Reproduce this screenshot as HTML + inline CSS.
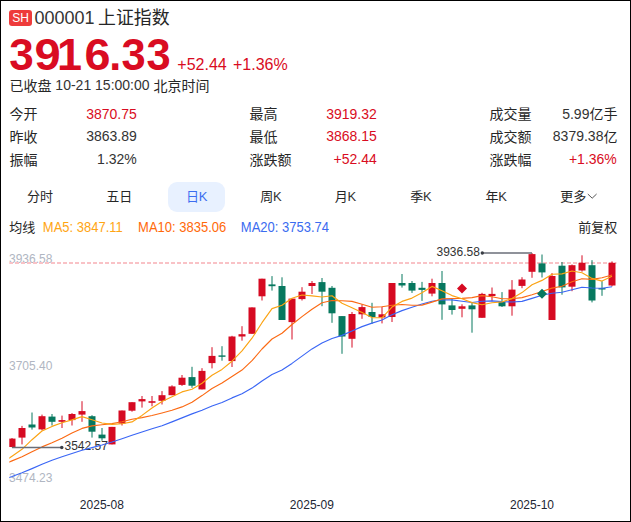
<!DOCTYPE html>
<html lang="zh-CN"><head><meta charset="utf-8"><title>000001 上证指数</title>
<style>
html,body{margin:0;padding:0;background:#fff;}
body{width:631px;height:522px;overflow:hidden;position:relative;font-family:"Liberation Sans",sans-serif;}
#wrap{position:absolute;left:0;top:0;width:631px;height:522px;box-sizing:border-box;border:1px solid #000;background:#fff;overflow:hidden;}
.t{position:absolute;white-space:nowrap;margin:0;padding:0;}
.h{color:transparent !important;overflow:hidden;width:1px;height:1px;opacity:0;}
.c{display:inline-block;height:1px;overflow:hidden;vertical-align:top;color:transparent;white-space:nowrap;}
.big{position:absolute;font-weight:bold;white-space:nowrap;}.big span{display:inline-block;vertical-align:top;text-align:left;}
.badge{position:absolute;left:9px;top:10px;width:23px;height:16px;border-radius:3px;background:#ee3b3b;color:#fff;font-size:12px;line-height:16px;text-align:center;}
.pill{position:absolute;left:167.8px;top:181.8px;width:57.5px;height:30px;border-radius:9px;background:#e8f1ff;}
svg{position:absolute;left:0;top:0;}
svg text{font-family:"Liberation Sans","Noto Sans CJK SC",sans-serif;}
</style></head><body>
<div id="wrap"></div>
<div class="badge">SH</div>
<div class="t" style="top:7.26px;font-size:18px;line-height:22px;color:#333333;left:34.40px;">000001 <span class="c" style="width:72px"></span></div>
<div class="big" style="left:9.08px;top:28.31px;font-size:45.0px;line-height:54px;color:#d90c22"><span style="width:25.91px;transform-origin:12.22px 0;transform:scaleX(0.979);">3</span><span style="width:21.90px;transform-origin:12.46px 0;transform:scaleX(1.046);">9</span><span style="width:28.43px;">1</span><span style="width:23.95px;transform-origin:12.52px 0;transform:scaleX(1.039);">6</span><span style="width:12.26px;transform-origin:6.23px 0;transform:scaleX(0.961);">.</span><span style="width:24.20px;transform-origin:12.22px 0;transform:scaleX(0.966);">3</span><span style="width:30.00px;transform-origin:12.22px 0;transform:scaleX(0.966);">3</span></div>
<div class="t" style="top:55.16px;font-size:16px;line-height:19px;color:#d90c22;left:177.30px;">+52.44</div>
<div class="t" style="top:55.16px;font-size:16px;line-height:19px;color:#d90c22;left:233.00px;">+1.36%</div>
<div class="t" style="top:77.45px;font-size:14px;line-height:17px;color:#333333;left:9.40px;"><span class="c" style="width:42.1px"></span> 10-21 15:00:00 <span class="c" style="width:56px"></span></div>
<div class="t" style="top:105.65px;font-size:14px;line-height:17px;color:#333333;left:9.40px;"><span class="c" style="width:28px"></span></div>
<div class="t" style="top:105.65px;font-size:14px;line-height:17px;color:#d90c22;right:494.20px;text-align:right;">3870.75</div>
<div class="t" style="top:105.65px;font-size:14px;line-height:17px;color:#333333;left:249.40px;"><span class="c" style="width:28px"></span></div>
<div class="t" style="top:105.65px;font-size:14px;line-height:17px;color:#d90c22;right:254.20px;text-align:right;">3919.32</div>
<div class="t" style="top:105.65px;font-size:14px;line-height:17px;color:#333333;left:489.40px;"><span class="c" style="width:42px"></span></div>
<div class="t" style="top:105.65px;font-size:14px;line-height:17px;color:#333333;right:14.20px;text-align:right;">5.99<span class="c" style="width:27.4px"></span></div>
<div class="t" style="top:128.05px;font-size:14px;line-height:17px;color:#333333;left:9.40px;"><span class="c" style="width:28px"></span></div>
<div class="t" style="top:128.05px;font-size:14px;line-height:17px;color:#333333;right:494.20px;text-align:right;">3863.89</div>
<div class="t" style="top:128.05px;font-size:14px;line-height:17px;color:#333333;left:249.40px;"><span class="c" style="width:28px"></span></div>
<div class="t" style="top:128.05px;font-size:14px;line-height:17px;color:#d90c22;right:254.20px;text-align:right;">3868.15</div>
<div class="t" style="top:128.05px;font-size:14px;line-height:17px;color:#333333;left:489.40px;"><span class="c" style="width:42px"></span></div>
<div class="t" style="top:128.05px;font-size:14px;line-height:17px;color:#333333;right:14.20px;text-align:right;">8379.38<span class="c" style="width:13.4px"></span></div>
<div class="t" style="top:150.75px;font-size:14px;line-height:17px;color:#333333;left:9.40px;"><span class="c" style="width:28px"></span></div>
<div class="t" style="top:150.75px;font-size:14px;line-height:17px;color:#333333;right:494.20px;text-align:right;">1.32%</div>
<div class="t" style="top:150.75px;font-size:14px;line-height:17px;color:#333333;left:249.40px;"><span class="c" style="width:42px"></span></div>
<div class="t" style="top:150.75px;font-size:14px;line-height:17px;color:#d90c22;right:254.20px;text-align:right;">+52.44</div>
<div class="t" style="top:150.75px;font-size:14px;line-height:17px;color:#333333;left:489.40px;"><span class="c" style="width:42px"></span></div>
<div class="t" style="top:150.75px;font-size:14px;line-height:17px;color:#d90c22;right:14.20px;text-align:right;">+1.36%</div>
<div class="pill"></div>
<div class="t" style="top:188.50px;font-size:13px;line-height:16px;color:#333333;left:27.00px;"><span class="c" style="width:26px"></span></div>
<div class="t" style="top:188.50px;font-size:13px;line-height:16px;color:#333333;left:106.20px;"><span class="c" style="width:26px"></span></div>
<div class="t" style="top:188.50px;font-size:13px;line-height:16px;color:#3d6df0;left:186.00px;"><span class="c" style="width:12.8px"></span>K</div>
<div class="t" style="top:188.50px;font-size:13px;line-height:16px;color:#333333;left:260.20px;"><span class="c" style="width:12.8px"></span>K</div>
<div class="t" style="top:188.50px;font-size:13px;line-height:16px;color:#333333;left:334.80px;"><span class="c" style="width:12.8px"></span>K</div>
<div class="t" style="top:188.50px;font-size:13px;line-height:16px;color:#333333;left:410.20px;"><span class="c" style="width:12.8px"></span>K</div>
<div class="t" style="top:188.50px;font-size:13px;line-height:16px;color:#333333;left:485.40px;"><span class="c" style="width:12.8px"></span>K</div>
<div class="t" style="top:188.50px;font-size:13px;line-height:16px;color:#333333;left:560.20px;"><span class="c" style="width:26px"></span></div>
<div class="t" style="top:219.60px;font-size:13px;line-height:16px;color:#333333;left:9.20px;"><span class="c" style="width:26px"></span></div>
<div class="t" style="top:219.60px;font-size:13px;line-height:16px;color:#ffa514;left:42.80px;transform:scaleY(1.1);transform-origin:0 12.50px;">MA5: 3847.11</div>
<div class="t" style="top:219.60px;font-size:13px;line-height:16px;color:#ff690a;left:138.10px;transform:scaleY(1.1);transform-origin:0 12.50px;">MA10: 3835.06</div>
<div class="t" style="top:219.60px;font-size:13px;line-height:16px;color:#3b6cf0;left:240.80px;transform:scaleY(1.1);transform-origin:0 12.50px;">MA20: 3753.74</div>
<div class="t" style="top:219.60px;font-size:13px;line-height:16px;color:#333333;left:578.20px;"><span class="c" style="width:39px"></span></div>
<div class="t" style="top:251.64px;font-size:12px;line-height:14px;color:#b0b6c2;left:9.00px;">3936.58</div>
<div class="t" style="top:358.94px;font-size:12px;line-height:14px;color:#b0b6c2;left:9.00px;">3705.40</div>
<div class="t" style="top:470.84px;font-size:12px;line-height:14px;color:#b0b6c2;left:9.00px;">3474.23</div>
<div class="t" style="top:498.14px;font-size:12px;line-height:14px;color:#222633;left:101.90px;width:90px;margin-left:-45px;text-align:center;">2025-08</div>
<div class="t" style="top:498.14px;font-size:12px;line-height:14px;color:#222633;left:311.90px;width:90px;margin-left:-45px;text-align:center;">2025-09</div>
<div class="t" style="top:498.14px;font-size:12px;line-height:14px;color:#222633;left:532.00px;width:90px;margin-left:-45px;text-align:center;">2025-10</div>
<div class="t" style="top:244.74px;font-size:12px;line-height:14px;color:#333;left:436.50px;">3936.58</div>
<div class="t" style="top:439.14px;font-size:12px;line-height:14px;color:#333;left:64.50px;">3542.57</div>
<svg width="631" height="522" viewBox="0 0 631 522">
<defs><clipPath id="cp"><rect x="9.3" y="240" width="612" height="255"/></clipPath></defs>
<g clip-path="url(#cp)"><line x1="9" y1="263" x2="616.5" y2="263" stroke="#f9c2c6" stroke-width="2" stroke-dasharray="4 2"/>
<line x1="12.0" y1="438.0" x2="12.0" y2="447.2" stroke="#d60a22" stroke-width="1"/>
<rect x="8.5" y="438.6" width="7" height="8.4" fill="#d60a22"/>
<line x1="22.0" y1="425.9" x2="22.0" y2="444.4" stroke="#d60a22" stroke-width="1"/>
<rect x="18.5" y="428.0" width="7" height="9.6" fill="#d60a22"/>
<line x1="32.0" y1="412.5" x2="32.0" y2="429.6" stroke="#07785f" stroke-width="1"/>
<rect x="28.5" y="424.5" width="7" height="3.0" fill="#07785f"/>
<line x1="42.0" y1="414.6" x2="42.0" y2="430.4" stroke="#d60a22" stroke-width="1"/>
<rect x="38.5" y="416.2" width="7" height="13.2" fill="#d60a22"/>
<line x1="52.0" y1="414.0" x2="52.0" y2="425.5" stroke="#07785f" stroke-width="1"/>
<rect x="48.5" y="416.6" width="7" height="5.2" fill="#07785f"/>
<line x1="62.0" y1="415.6" x2="62.0" y2="428.0" stroke="#d60a22" stroke-width="1"/>
<rect x="58.5" y="420.1" width="7" height="1.7" fill="#d60a22"/>
<line x1="72.0" y1="413.1" x2="72.0" y2="425.5" stroke="#d60a22" stroke-width="1"/>
<rect x="68.5" y="414.0" width="7" height="6.1" fill="#d60a22"/>
<line x1="82.0" y1="401.2" x2="82.0" y2="421.8" stroke="#d60a22" stroke-width="1"/>
<rect x="78.5" y="411.1" width="7" height="3.5" fill="#d60a22"/>
<line x1="92.0" y1="415.2" x2="92.0" y2="437.6" stroke="#07785f" stroke-width="1"/>
<rect x="88.5" y="416.2" width="7" height="15.5" fill="#07785f"/>
<line x1="102.0" y1="428.0" x2="102.0" y2="440.7" stroke="#07785f" stroke-width="1"/>
<rect x="98.5" y="434.6" width="7" height="3.7" fill="#07785f"/>
<line x1="112.0" y1="426.9" x2="112.0" y2="444.4" stroke="#d60a22" stroke-width="1"/>
<rect x="108.5" y="426.9" width="7" height="17.5" fill="#d60a22"/>
<line x1="122.0" y1="410.5" x2="122.0" y2="425.5" stroke="#d60a22" stroke-width="1"/>
<rect x="118.5" y="410.5" width="7" height="13.1" fill="#d60a22"/>
<line x1="132.0" y1="402.2" x2="132.0" y2="411.7" stroke="#d60a22" stroke-width="1"/>
<rect x="128.5" y="402.2" width="7" height="8.5" fill="#d60a22"/>
<line x1="142.0" y1="396.0" x2="142.0" y2="407.6" stroke="#d60a22" stroke-width="1"/>
<rect x="138.5" y="399.1" width="7" height="2.3" fill="#d60a22"/>
<line x1="152.0" y1="396.0" x2="152.0" y2="406.3" stroke="#d60a22" stroke-width="1"/>
<rect x="148.5" y="401.2" width="7" height="1.6" fill="#d60a22"/>
<line x1="162.0" y1="391.1" x2="162.0" y2="404.5" stroke="#d60a22" stroke-width="1"/>
<rect x="158.5" y="395.2" width="7" height="5.6" fill="#d60a22"/>
<line x1="172.0" y1="385.3" x2="172.0" y2="395.2" stroke="#d60a22" stroke-width="1"/>
<rect x="168.5" y="386.4" width="7" height="8.8" fill="#d60a22"/>
<line x1="182.0" y1="375.0" x2="182.0" y2="385.9" stroke="#d60a22" stroke-width="1"/>
<rect x="178.5" y="377.7" width="7" height="7.2" fill="#d60a22"/>
<line x1="192.0" y1="366.8" x2="192.0" y2="387.8" stroke="#07785f" stroke-width="1"/>
<rect x="188.5" y="377.1" width="7" height="8.6" fill="#07785f"/>
<line x1="202.0" y1="368.2" x2="202.0" y2="389.4" stroke="#d60a22" stroke-width="1"/>
<rect x="198.5" y="370.9" width="7" height="18.5" fill="#d60a22"/>
<line x1="212.0" y1="347.2" x2="212.0" y2="368.4" stroke="#d60a22" stroke-width="1"/>
<rect x="208.5" y="355.9" width="7" height="7.2" fill="#d60a22"/>
<line x1="222.0" y1="346.2" x2="222.0" y2="360.7" stroke="#07785f" stroke-width="1"/>
<rect x="218.5" y="355.4" width="7" height="1.4" fill="#07785f"/>
<line x1="232.0" y1="335.8" x2="232.0" y2="367.0" stroke="#d60a22" stroke-width="1"/>
<rect x="228.5" y="336.5" width="7" height="24.6" fill="#d60a22"/>
<line x1="242.0" y1="326.2" x2="242.0" y2="340.7" stroke="#d60a22" stroke-width="1"/>
<rect x="238.5" y="334.2" width="7" height="2.3" fill="#d60a22"/>
<line x1="252.0" y1="307.4" x2="252.0" y2="333.8" stroke="#d60a22" stroke-width="1"/>
<rect x="248.5" y="307.4" width="7" height="26.4" fill="#d60a22"/>
<line x1="262.0" y1="278.7" x2="262.0" y2="300.5" stroke="#d60a22" stroke-width="1"/>
<rect x="258.5" y="278.7" width="7" height="17.6" fill="#d60a22"/>
<line x1="272.0" y1="276.1" x2="272.0" y2="290.6" stroke="#07785f" stroke-width="1"/>
<rect x="268.5" y="284.4" width="7" height="1.8" fill="#07785f"/>
<line x1="282.0" y1="277.3" x2="282.0" y2="320.0" stroke="#07785f" stroke-width="1"/>
<rect x="278.5" y="286.0" width="7" height="34.0" fill="#07785f"/>
<line x1="292.0" y1="298.6" x2="292.0" y2="339.5" stroke="#d60a22" stroke-width="1"/>
<rect x="288.5" y="298.6" width="7" height="23.5" fill="#d60a22"/>
<line x1="302.0" y1="287.2" x2="302.0" y2="300.5" stroke="#d60a22" stroke-width="1"/>
<rect x="298.5" y="291.7" width="7" height="7.4" fill="#d60a22"/>
<line x1="312.0" y1="281.0" x2="312.0" y2="294.0" stroke="#d60a22" stroke-width="1"/>
<rect x="308.5" y="283.0" width="7" height="3.0" fill="#d60a22"/>
<line x1="322.0" y1="278.0" x2="322.0" y2="306.2" stroke="#07785f" stroke-width="1"/>
<rect x="318.5" y="282.1" width="7" height="9.6" fill="#07785f"/>
<line x1="332.0" y1="286.0" x2="332.0" y2="322.8" stroke="#07785f" stroke-width="1"/>
<rect x="328.5" y="287.8" width="7" height="25.5" fill="#07785f"/>
<line x1="342.0" y1="316.1" x2="342.0" y2="353.8" stroke="#07785f" stroke-width="1"/>
<rect x="338.5" y="316.1" width="7" height="20.4" fill="#07785f"/>
<line x1="352.0" y1="312.0" x2="352.0" y2="347.6" stroke="#d60a22" stroke-width="1"/>
<rect x="348.5" y="314.0" width="7" height="24.8" fill="#d60a22"/>
<line x1="362.0" y1="304.4" x2="362.0" y2="318.8" stroke="#d60a22" stroke-width="1"/>
<rect x="358.5" y="307.1" width="7" height="7.2" fill="#d60a22"/>
<line x1="372.0" y1="302.8" x2="372.0" y2="323.9" stroke="#07785f" stroke-width="1"/>
<rect x="368.5" y="312.0" width="7" height="5.0" fill="#07785f"/>
<line x1="382.0" y1="306.7" x2="382.0" y2="323.4" stroke="#d60a22" stroke-width="1"/>
<rect x="378.5" y="314.3" width="7" height="3.2" fill="#d60a22"/>
<line x1="392.0" y1="283.0" x2="392.0" y2="322.0" stroke="#d60a22" stroke-width="1"/>
<rect x="388.5" y="283.0" width="7" height="34.0" fill="#d60a22"/>
<line x1="402.0" y1="274.0" x2="402.0" y2="287.6" stroke="#07785f" stroke-width="1"/>
<rect x="398.5" y="283.0" width="7" height="2.5" fill="#07785f"/>
<line x1="412.0" y1="281.0" x2="412.0" y2="292.9" stroke="#07785f" stroke-width="1"/>
<rect x="408.5" y="283.0" width="7" height="7.6" fill="#07785f"/>
<line x1="422.0" y1="281.9" x2="422.0" y2="300.9" stroke="#07785f" stroke-width="1"/>
<rect x="418.5" y="287.8" width="7" height="2.1" fill="#07785f"/>
<line x1="432.0" y1="278.7" x2="432.0" y2="296.3" stroke="#d60a22" stroke-width="1"/>
<rect x="428.5" y="283.0" width="7" height="10.6" fill="#d60a22"/>
<line x1="442.0" y1="271.0" x2="442.0" y2="319.8" stroke="#07785f" stroke-width="1"/>
<rect x="438.5" y="283.0" width="7" height="21.4" fill="#07785f"/>
<line x1="452.0" y1="298.8" x2="452.0" y2="314.6" stroke="#07785f" stroke-width="1"/>
<rect x="448.5" y="305.4" width="7" height="4.6" fill="#07785f"/>
<line x1="462.0" y1="304.3" x2="462.0" y2="317.3" stroke="#d60a22" stroke-width="1"/>
<rect x="458.5" y="306.3" width="7" height="2.5" fill="#d60a22"/>
<line x1="472.0" y1="302.4" x2="472.0" y2="332.7" stroke="#07785f" stroke-width="1"/>
<rect x="468.5" y="305.4" width="7" height="3.9" fill="#07785f"/>
<line x1="482.0" y1="292.8" x2="482.0" y2="317.8" stroke="#d60a22" stroke-width="1"/>
<rect x="478.5" y="293.9" width="7" height="23.9" fill="#d60a22"/>
<line x1="492.0" y1="287.5" x2="492.0" y2="301.3" stroke="#d60a22" stroke-width="1"/>
<rect x="488.5" y="293.9" width="7" height="2.1" fill="#d60a22"/>
<line x1="502.0" y1="292.1" x2="502.0" y2="307.0" stroke="#07785f" stroke-width="1"/>
<rect x="498.5" y="301.7" width="7" height="4.6" fill="#07785f"/>
<line x1="512.0" y1="280.1" x2="512.0" y2="315.7" stroke="#d60a22" stroke-width="1"/>
<rect x="508.5" y="289.6" width="7" height="16.7" fill="#d60a22"/>
<line x1="522.0" y1="277.2" x2="522.0" y2="288.2" stroke="#d60a22" stroke-width="1"/>
<rect x="518.5" y="279.5" width="7" height="6.4" fill="#d60a22"/>
<line x1="532.0" y1="253.0" x2="532.0" y2="277.8" stroke="#d60a22" stroke-width="1"/>
<rect x="528.5" y="254.1" width="7" height="17.7" fill="#d60a22"/>
<line x1="542.0" y1="254.5" x2="542.0" y2="277.5" stroke="#07785f" stroke-width="1"/>
<rect x="538.5" y="263.4" width="7" height="9.0" fill="#07785f"/>
<line x1="552.0" y1="273.1" x2="552.0" y2="320.0" stroke="#d60a22" stroke-width="1"/>
<rect x="548.5" y="276.0" width="7" height="44.0" fill="#d60a22"/>
<line x1="562.0" y1="262.0" x2="562.0" y2="294.7" stroke="#07785f" stroke-width="1"/>
<rect x="558.5" y="265.7" width="7" height="21.7" fill="#07785f"/>
<line x1="572.0" y1="264.5" x2="572.0" y2="291.2" stroke="#d60a22" stroke-width="1"/>
<rect x="568.5" y="265.2" width="7" height="21.5" fill="#d60a22"/>
<line x1="582.0" y1="255.3" x2="582.0" y2="271.7" stroke="#d60a22" stroke-width="1"/>
<rect x="578.5" y="262.8" width="7" height="7.7" fill="#d60a22"/>
<line x1="592.0" y1="260.2" x2="592.0" y2="302.4" stroke="#07785f" stroke-width="1"/>
<rect x="588.5" y="265.2" width="7" height="35.3" fill="#07785f"/>
<line x1="602.0" y1="281.2" x2="602.0" y2="295.8" stroke="#07785f" stroke-width="1"/>
<rect x="598.5" y="288.1" width="7" height="1.4" fill="#07785f"/>
<line x1="612.0" y1="261.4" x2="612.0" y2="286.4" stroke="#d60a22" stroke-width="1"/>
<rect x="608.5" y="262.8" width="7" height="22.7" fill="#d60a22"/>
<path fill="none" stroke="#3a66f5" stroke-width="1.15" stroke-linejoin="round" d="M2.0 480.0C2.0 480.0 12.0 476.5 12.0 476.5C12.0 476.5 22.0 472.7 22.0 472.7C22.0 472.7 32.0 468.6 32.0 468.6C32.0 468.6 42.0 464.3 42.0 464.3C42.0 464.3 52.0 460.2 52.0 460.2C52.0 460.2 62.0 456.8 62.0 456.8C62.0 456.8 72.0 453.5 72.0 453.5C72.0 453.5 82.0 450.3 82.0 450.3C82.0 450.3 92.0 447.6 92.0 447.6C92.0 447.6 102.0 445.0 102.0 445.0C102.0 445.0 112.0 442.0 112.0 442.0C112.0 442.0 122.0 438.7 122.0 438.7C122.0 438.7 132.0 435.3 132.0 435.3C132.0 435.3 142.0 432.0 142.0 432.0C142.0 432.0 152.0 428.8 152.0 428.8C152.0 428.8 162.0 425.7 162.0 425.7C162.0 425.7 172.0 421.9 172.0 421.9C172.0 421.9 182.0 417.9 182.0 417.9C182.0 417.9 192.0 413.9 192.0 413.9C192.0 413.9 202.0 410.2 202.0 410.2C202.0 410.2 212.0 406.0 212.0 406.0C212.0 406.0 222.0 402.5 222.0 402.5C222.0 402.5 232.0 397.9 232.0 397.9C232.0 397.9 242.0 393.8 242.0 393.8C242.0 393.8 252.0 388.1 252.0 388.1C252.0 388.1 262.0 381.0 262.0 381.0C262.0 381.0 272.0 374.6 272.0 374.6C272.0 374.6 282.0 370.1 282.0 370.1C282.0 370.1 292.0 363.4 292.0 363.4C292.0 363.4 302.0 356.1 302.0 356.1C302.0 356.1 312.0 348.9 312.0 348.9C312.0 348.9 322.0 343.0 322.0 343.0C322.0 343.0 332.0 338.5 332.0 338.5C332.0 338.5 342.0 335.4 342.0 335.4C342.0 335.4 352.0 331.0 352.0 331.0C352.0 331.0 362.0 326.6 362.0 326.6C362.0 326.6 372.0 323.1 372.0 323.1C372.0 323.1 382.0 320.0 382.0 320.0C382.0 320.0 392.0 314.8 392.0 314.8C392.0 314.8 402.0 310.6 402.0 310.6C402.0 310.6 412.0 307.3 412.0 307.3C412.0 307.3 422.0 304.0 422.0 304.0C422.0 304.0 432.0 301.3 432.0 301.3C432.0 301.3 442.0 299.8 442.0 299.8C442.0 299.8 452.0 299.9 452.0 299.9C452.0 299.9 462.0 301.3 462.0 301.3C462.0 301.3 472.0 302.5 472.0 302.5C472.0 302.5 482.0 301.2 482.0 301.2C482.0 301.2 492.0 300.9 492.0 300.9C492.0 300.9 502.0 301.6 502.0 301.6C502.0 301.6 512.0 302.0 512.0 302.0C512.0 302.0 522.0 301.4 522.0 301.4C522.0 301.4 532.0 298.4 532.0 298.4C532.0 298.4 542.0 295.2 542.0 295.2C542.0 295.2 552.0 293.3 552.0 293.3C552.0 293.3 562.0 292.3 562.0 292.3C562.0 292.3 572.0 289.7 572.0 289.7C572.0 289.7 582.0 287.2 582.0 287.2C582.0 287.2 592.0 288.0 592.0 288.0C592.0 288.0 602.0 288.2 602.0 288.2C602.0 288.2 612.0 286.8 612.0 286.8"/>
<path fill="none" stroke="#fb6a14" stroke-width="1.15" stroke-linejoin="round" d="M2.0 465.0C2.0 465.0 12.0 460.9 12.0 460.9C12.0 460.9 22.0 456.8 22.0 456.8C22.0 456.8 32.0 451.7 32.0 451.7C32.0 451.7 42.0 446.9 42.0 446.9C42.0 446.9 52.0 442.8 52.0 442.8C52.0 442.8 62.0 438.3 62.0 438.3C62.0 438.3 72.0 433.1 72.0 433.1C72.0 433.1 82.0 428.4 82.0 428.4C82.0 428.4 92.0 425.9 92.0 425.9C92.0 425.9 102.0 424.7 102.0 424.7C102.0 424.7 112.0 423.6 112.0 423.6C112.0 423.6 122.0 421.8 122.0 421.8C122.0 421.8 132.0 419.3 132.0 419.3C132.0 419.3 142.0 417.6 142.0 417.6C142.0 417.6 152.0 415.5 152.0 415.5C152.0 415.5 162.0 413.0 162.0 413.0C162.0 413.0 172.0 410.3 172.0 410.3C172.0 410.3 182.0 406.9 182.0 406.9C182.0 406.9 192.0 402.3 192.0 402.3C192.0 402.3 202.0 395.6 202.0 395.6C202.0 395.6 212.0 388.5 212.0 388.5C212.0 388.5 222.0 383.1 222.0 383.1C222.0 383.1 232.0 376.5 232.0 376.5C232.0 376.5 242.0 370.1 242.0 370.1C242.0 370.1 252.0 360.7 252.0 360.7C252.0 360.7 262.0 349.0 262.0 349.0C262.0 349.0 272.0 339.0 272.0 339.0C272.0 339.0 282.0 333.2 282.0 333.2C282.0 333.2 292.0 324.5 292.0 324.5C292.0 324.5 302.0 316.6 302.0 316.6C302.0 316.6 312.0 309.3 312.0 309.3C312.0 309.3 322.0 302.8 322.0 302.8C322.0 302.8 332.0 300.5 332.0 300.5C332.0 300.5 342.0 300.7 342.0 300.7C342.0 300.7 352.0 301.4 352.0 301.4C352.0 301.4 362.0 304.2 362.0 304.2C362.0 304.2 372.0 307.3 372.0 307.3C372.0 307.3 382.0 306.7 382.0 306.7C382.0 306.7 392.0 305.2 392.0 305.2C392.0 305.2 402.0 304.5 402.0 304.5C402.0 304.5 412.0 305.3 412.0 305.3C412.0 305.3 422.0 305.1 422.0 305.1C422.0 305.1 432.0 302.1 432.0 302.1C432.0 302.1 442.0 298.9 442.0 298.9C442.0 298.9 452.0 298.5 452.0 298.5C452.0 298.5 462.0 298.4 462.0 298.4C462.0 298.4 472.0 297.6 472.0 297.6C472.0 297.6 482.0 295.6 482.0 295.6C482.0 295.6 492.0 296.7 492.0 296.7C492.0 296.7 502.0 298.8 502.0 298.8C502.0 298.8 512.0 298.7 512.0 298.7C512.0 298.7 522.0 297.6 522.0 297.6C522.0 297.6 532.0 294.7 532.0 294.7C532.0 294.7 542.0 291.5 542.0 291.5C542.0 291.5 552.0 288.1 552.0 288.1C552.0 288.1 562.0 286.2 562.0 286.2C562.0 286.2 572.0 281.8 572.0 281.8C572.0 281.8 582.0 278.7 582.0 278.7C582.0 278.7 592.0 279.4 592.0 279.4C592.0 279.4 602.0 277.7 602.0 277.7C602.0 277.7 612.0 275.0 612.0 275.0"/>
<path fill="none" stroke="#fba313" stroke-width="1.15" stroke-linejoin="round" d="M2.0 463.0C2.0 463.0 12.0 456.2 12.0 456.2C12.0 456.2 22.0 449.3 22.0 449.3C22.0 449.3 32.0 439.7 32.0 439.7C32.0 439.7 42.0 431.0 42.0 431.0C42.0 431.0 52.0 426.4 52.0 426.4C52.0 426.4 62.0 422.7 62.0 422.7C62.0 422.7 72.0 419.9 72.0 419.9C72.0 419.9 82.0 416.6 82.0 416.6C82.0 416.6 92.0 419.7 92.0 419.7C92.0 419.7 102.0 423.0 102.0 423.0C102.0 423.0 112.0 424.4 112.0 424.4C112.0 424.4 122.0 423.7 122.0 423.7C122.0 423.7 132.0 421.9 132.0 421.9C132.0 421.9 142.0 415.4 142.0 415.4C142.0 415.4 152.0 408.0 152.0 408.0C152.0 408.0 162.0 401.6 162.0 401.6C162.0 401.6 172.0 396.8 172.0 396.8C172.0 396.8 182.0 391.9 182.0 391.9C182.0 391.9 192.0 389.2 192.0 389.2C192.0 389.2 202.0 383.2 202.0 383.2C202.0 383.2 212.0 375.3 212.0 375.3C212.0 375.3 222.0 369.4 222.0 369.4C222.0 369.4 232.0 361.2 232.0 361.2C232.0 361.2 242.0 350.9 242.0 350.9C242.0 350.9 252.0 338.2 252.0 338.2C252.0 338.2 262.0 322.7 262.0 322.7C262.0 322.7 272.0 308.6 272.0 308.6C272.0 308.6 282.0 305.3 282.0 305.3C282.0 305.3 292.0 298.2 292.0 298.2C292.0 298.2 302.0 295.0 302.0 295.0C302.0 295.0 312.0 295.9 312.0 295.9C312.0 295.9 322.0 297.0 322.0 297.0C322.0 297.0 332.0 295.7 332.0 295.7C332.0 295.7 342.0 303.2 342.0 303.2C342.0 303.2 352.0 307.7 352.0 307.7C352.0 307.7 362.0 312.5 362.0 312.5C362.0 312.5 372.0 317.6 372.0 317.6C372.0 317.6 382.0 317.8 382.0 317.8C382.0 317.8 392.0 307.1 392.0 307.1C392.0 307.1 402.0 301.4 402.0 301.4C402.0 301.4 412.0 298.1 412.0 298.1C412.0 298.1 422.0 292.7 422.0 292.7C422.0 292.7 432.0 286.4 432.0 286.4C432.0 286.4 442.0 290.7 442.0 290.7C442.0 290.7 452.0 295.6 452.0 295.6C452.0 295.6 462.0 298.7 462.0 298.7C462.0 298.7 472.0 302.6 472.0 302.6C472.0 302.6 482.0 304.8 482.0 304.8C482.0 304.8 492.0 302.7 492.0 302.7C492.0 302.7 502.0 301.9 502.0 301.9C502.0 301.9 512.0 298.6 512.0 298.6C512.0 298.6 522.0 292.6 522.0 292.6C522.0 292.6 532.0 284.7 532.0 284.7C532.0 284.7 542.0 280.4 542.0 280.4C542.0 280.4 552.0 274.3 552.0 274.3C552.0 274.3 562.0 273.9 562.0 273.9C562.0 273.9 572.0 271.0 572.0 271.0C572.0 271.0 582.0 272.8 582.0 272.8C582.0 272.8 592.0 278.4 592.0 278.4C592.0 278.4 602.0 281.1 602.0 281.1C602.0 281.1 612.0 276.2 612.0 276.2"/>
<path d="M462.0 283.6L467.0 288.6L462.0 293.6L457.0 288.6Z" fill="#d60a22"/>
<path d="M542.0 288.8L547.0 293.8L542.0 298.8L537.0 293.8Z" fill="#07785f"/>
<line x1="482.3" y1="253.0" x2="532" y2="253.0" stroke="#6a6e78" stroke-width="1.6"/><circle cx="482.3" cy="253.0" r="1.7" fill="#3a3d44"/>
<line x1="12" y1="447.5" x2="61.8" y2="447.5" stroke="#6a6e78" stroke-width="1.6"/><circle cx="61.8" cy="447.5" r="1.7" fill="#3a3d44"/></g>
<polyline points="587.8,194.0 592.2,198.2 596.6,194.0" fill="none" stroke="#444" stroke-width="0.9"/>
<g fill="#262626">
<text x="98.00" y="24.30" font-size="17.9">上证指数</text>
<text x="9.40" y="91.20" font-size="14">已收盘</text>
<text x="153.60" y="91.20" font-size="14">北京时间</text>
<text x="9.40" y="119.40" font-size="14">今开</text>
<text x="249.40" y="119.40" font-size="14">最高</text>
<text x="489.40" y="119.40" font-size="14">成交量</text>
<text x="589.40" y="119.40" font-size="14">亿手</text>
<text x="9.40" y="141.80" font-size="14">昨收</text>
<text x="249.40" y="141.80" font-size="14">最低</text>
<text x="489.40" y="141.80" font-size="14">成交额</text>
<text x="603.40" y="141.80" font-size="14">亿</text>
<text x="9.40" y="164.50" font-size="14">振幅</text>
<text x="249.40" y="164.50" font-size="14">涨跌额</text>
<text x="489.40" y="164.50" font-size="14">涨跌幅</text>
<text x="27.00" y="201.40" font-size="13">分时</text>
<text x="106.20" y="201.40" font-size="13">五日</text>
<text x="186.00" y="201.40" font-size="13" fill="#3d6df0">日</text>
<text x="260.20" y="201.40" font-size="13">周</text>
<text x="334.80" y="201.40" font-size="13">月</text>
<text x="410.20" y="201.40" font-size="13">季</text>
<text x="485.40" y="201.40" font-size="13">年</text>
<text x="560.20" y="201.40" font-size="13">更多</text>
<text x="9.20" y="232.00" font-size="13">均线</text>
<text x="578.20" y="232.00" font-size="13">前复权</text>
</g>
</svg>
</body></html>
